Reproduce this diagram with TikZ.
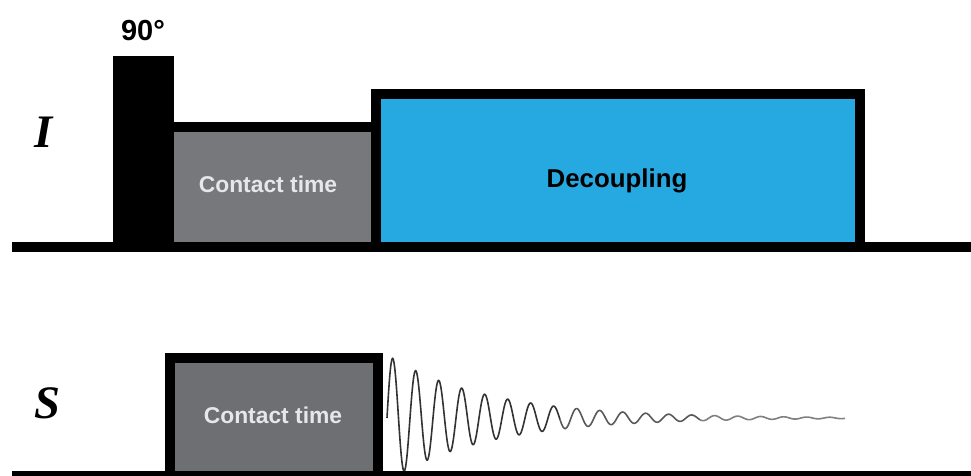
\documentclass[tikz,border=0pt]{standalone}
\usepackage{fontspec}
\setmainfont{Liberation Sans}
\newfontfamily\chanfont{Liberation Serif}
\definecolor{ctgray}{RGB}{119,120,123}
\definecolor{ctgraydark}{RGB}{110,111,114}
\definecolor{decblue}{RGB}{38,169,225}
\definecolor{ctlabel}{RGB}{230,231,232}
\tikzset{
  axisline/.style={line width=2mm},
  pulsebox/.style={draw=black, line width=2mm},
  boxlabel/.style={font=\bfseries\fontsize{13}{15}\selectfont, text=ctlabel, anchor=base},
  chanlabel/.style={font=\chanfont\bfseries\itshape\fontsize{26.5}{30}\selectfont, anchor=base},
  fid/.style={line width=0.32mm}
}

\begin{document}
\begin{tikzpicture}[x=0.2mm, y=-0.2mm]
\useasboundingbox (0,0) rectangle (971,476);

% I channel
\fill (113,56) rectangle (174,247);
\filldraw[pulsebox, fill=ctgray] (169,127) rectangle (376,247);
\filldraw[pulsebox, fill=decblue] (376,94) rectangle (860,247);
\draw[axisline] (12,247) -- (971,247);

\node[chanlabel] (chI) at (44,148) {I};
\node[anchor=base, font=\bfseries\fontsize{16.5}{18}\selectfont] (ninety) at (143,41) {90°};
\node[boxlabel] (ctI) at (268,193) {Contact time};
\node[anchor=base, font=\bfseries\fontsize{14.7}{17}\selectfont] (dec) at (617,188) {Decoupling};

% S channel
\filldraw[pulsebox, fill=ctgraydark] (170,358) rectangle (378,476);
\draw[fid, black!80, domain=387:560, samples=400] plot (\x, {418 - 63*exp(-(\x-387)/100)*sin(15.652*(\x-387))});
\draw[fid, black!65, domain=560:700, samples=300] plot (\x, {418 - 63*exp(-(\x-387)/100)*sin(15.652*(\x-387))});
\draw[fid, black!50, domain=700:845, samples=300] plot (\x, {418 - 63*exp(-(\x-387)/100)*sin(15.652*(\x-387))});
\draw[axisline] (12,476) -- (971,476);

\node[chanlabel] (chS) at (47,419) {S};
\node[boxlabel] (ctS) at (273,424) {Contact time};

\end{tikzpicture}
\end{document}
